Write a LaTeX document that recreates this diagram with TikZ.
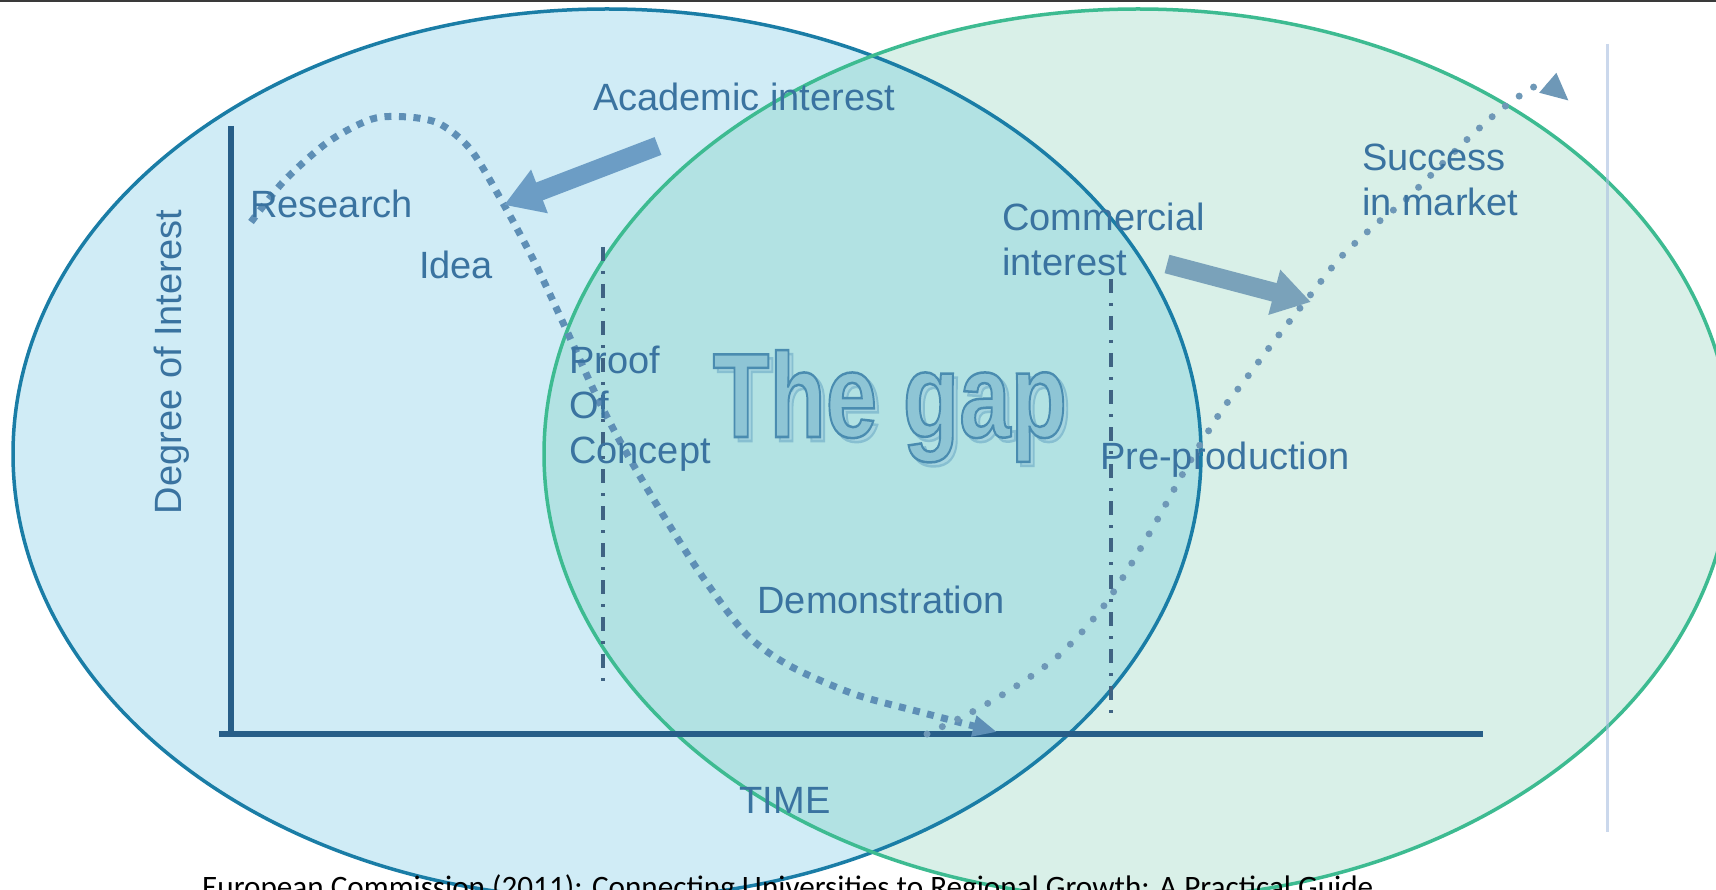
\documentclass[tikz,border=0pt]{standalone}
\usepackage{fontspec}
\setmainfont{Liberation Sans}
\newfontfamily\citefont{Carlito}
\usetikzlibrary{arrows.meta}

\definecolor{leftfill}{HTML}{D0ECF6}
\definecolor{rightfill}{HTML}{D9F0E8}
\definecolor{bothfill}{HTML}{B2E2E3}
\definecolor{leftline}{HTML}{1A7DA6}
\definecolor{rightline}{HTML}{3DBB91}
\definecolor{axisblue}{HTML}{275E88}
\definecolor{labelblue}{HTML}{3A73A0}
\definecolor{phasegray}{HTML}{3F6383}
\definecolor{academicdots}{HTML}{5E8FB6}
\definecolor{marketdots}{HTML}{6E98B7}
\definecolor{academicarrow}{HTML}{6C9DC5}
\definecolor{marketarrow}{HTML}{7AA2BA}
\definecolor{sideline}{HTML}{A9BEE0}
\definecolor{gapfill}{HTML}{8EC5D5}
\definecolor{gapshadow}{HTML}{A6D5E0}
\definecolor{topline}{HTML}{3A3A3A}

\begin{document}
\begin{tikzpicture}[x=1pt,y=-1pt]
\tikzstyle{txt}=[inner sep=0pt, text=labelblue, font=\fontsize{38}{45}\selectfont]
\tikzstyle{gaptext}=[inner sep=0pt, anchor=base, font=\fontsize{120}{120}\bfseries\selectfont]
\tikzstyle{bigarrow}=[line width=19pt, -{Triangle[length=38pt,width=44pt]}]
\tikzstyle{phase}=[line width=3.5pt, draw=phasegray, dash pattern=on 14pt off 10pt on 3pt off 10pt]
\tikzstyle{sqdots}=[line width=7pt, draw=academicdots, dash pattern=on 7pt off 7.5pt]
\tikzstyle{rnddots}=[line width=7pt, draw=marketdots, line cap=round, dash pattern=on 0pt off 17pt]
\tikzstyle{axis}=[line width=5.5pt, draw=axisblue]

  \useasboundingbox (0,0) rectangle (1716,890);
  \clip (0,0) rectangle (1716,890);
  \fill[white] (0,0) rectangle (1716,890);

  % the two circles
  \fill[leftfill] (607,454) ellipse [x radius=594, y radius=445];
  \fill[rightfill] (1138,454) ellipse [x radius=594, y radius=445];
  \begin{scope}
    \clip (607,454) ellipse [x radius=594, y radius=445];
    \fill[bothfill] (1138,454) ellipse [x radius=594, y radius=445];
  \end{scope}
  \draw[line width=3.5pt, leftline] (607,454) ellipse [x radius=594, y radius=445];
  \draw[line width=3.5pt, rightline] (1138,454) ellipse [x radius=594, y radius=445];

  \draw[line width=3pt, sideline, opacity=0.6] (1607,44) -- (1607,832);
  \draw[line width=3pt, topline] (0,1) -- (1716,1);

  % axes and phases
  \draw[axis] (231,126) -- (231,736);
  \draw[axis] (219,734) -- (1483,734);
  \draw[phase] (603,247) -- (603,690);
  \draw[phase] (1111,279) -- (1111,723);

  % interest curves
  \draw[sqdots, -{Triangle[length=24pt,width=20pt]}] plot[smooth] coordinates {(251,222) (284,181) (328,142) (372,119) (408,117) (440,124) (471,150) (504,205) (536,265) (571,340) (596,395) (622,445) (660,510) (702,576) (746,634) (790,666) (854,694) (920,712) (962,723) (997,732)};
  \draw[rnddots, -{Triangle[length=28pt,width=24pt]}] plot[smooth] coordinates {(927,734) (972,712) (1002,695) (1030,677) (1057,657) (1081,633) (1103,607) (1122,579) (1139,551) (1156,522) (1172,493) (1189,463) (1206,435) (1224,407) (1245,380) (1275,340) (1308,298) (1340,258) (1375,225) (1402,203) (1426,180) (1450,156) (1474,133) (1499,111) (1527,91) (1545,84) (1569,101)};

  % block arrows
  \coordinate (acad tail) at (658,146);
  \coordinate (acad tip) at (504,205);
  \coordinate (comm tail) at (1167,264);
  \coordinate (comm tip) at (1311,302);
  \draw[bigarrow, academicarrow] (acad tail) -- (acad tip);
  \draw[bigarrow, marketarrow] (comm tail) -- (comm tip);

  % labels
  \node[txt, anchor=base] (academic) at (744,111) {Academic interest};
  \node[txt, anchor=base west] (research) at (250,218) {Research};
  \node[txt, anchor=base] (idea) at (456,279) {Idea};
  \node[txt, anchor=north west, align=left] (proof) at (569,346) {Proof\\Of\\Concept};
  \node[txt, anchor=base] (demo) at (881,613) {Demonstration};
  \node[txt, anchor=north west, align=left] (commercial) at (1002,203) {Commercial\\interest};
  \node[txt, anchor=north west, align=left] (success) at (1362,144) {Success\\in market};
  \node[txt, anchor=base west] (preprod) at (1100,469) {Pre-production};
  \node[txt, anchor=base] (time) at (785,813) {TIME};
  \node[txt, rotate=90] (degree) at (172,362) {Degree of Interest};

  \node[gaptext, text=gapshadow] (gap shadow) at (894,441) {\scalebox{0.77}[1]{\special{pdf:literal direct 0.53 0.75 0.82 RG 2.5 w 2 Tr}The gap\special{pdf:literal direct 0 Tr}}};
  \node[gaptext, text=gapfill] (gap) at (890,437) {\scalebox{0.77}[1]{\special{pdf:literal direct 0.29 0.55 0.69 RG 2.5 w 2 Tr}The gap\special{pdf:literal direct 0 Tr}}};

  \node[inner sep=0pt, anchor=base west] (source) at (202,897) {\resizebox{1171pt}{!}{\citefont European Commission (2011): Connecting Universities to Regional Growth: A Practical Guide}};

\end{tikzpicture}
\end{document}
